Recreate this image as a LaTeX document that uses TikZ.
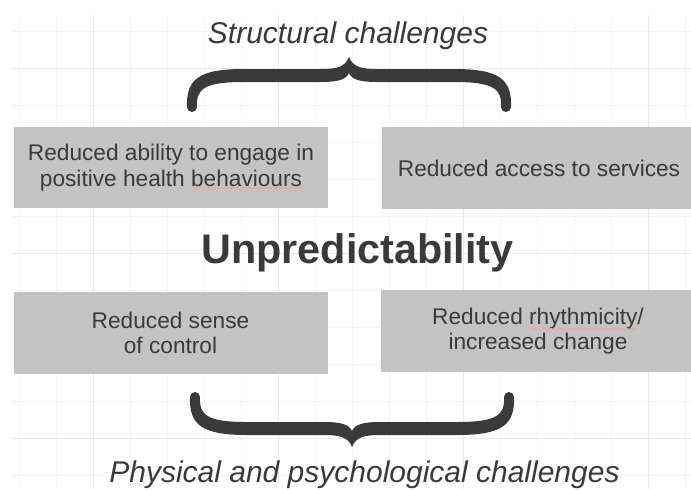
\documentclass[tikz,border=0pt]{standalone}
\usepackage{fontspec}
\setmainfont{Liberation Sans}
\usetikzlibrary{positioning, decorations.pathmorphing}

\definecolor{boxgray}{HTML}{C4C3C4}
\definecolor{inkgray}{HTML}{3A3A3A}
\definecolor{gridmajor}{HTML}{EAEAEA}
\definecolor{gridminor}{HTML}{F4F4F4}

\begin{document}
\begin{tikzpicture}[
    x=0.75pt, y=-0.75pt,
    box/.style={fill=boxgray, text=inkgray, minimum width=235.5pt, minimum height=61pt, align=center, font=\fontsize{17}{19}\selectfont},
    caption/.style={text=inkgray, font=\fontsize{22.5}{27}\selectfont\itshape},
    spellmark/.style={red!40!white, line width=0.5pt, decorate, decoration={snake, amplitude=0.6pt, segment length=3pt}},
    pics/curlybrace/.style={code={
        \fill[inkgray] (0,0) .. controls (-4,10) and (-12,12) .. (-28,12) -- (-105,12)
            .. controls (-150,12) and (-163,22) .. (-162,50) arc[start angle=180, end angle=0, radius=5]
            .. controls (-153,32) and (-145,25) .. (-105,25) -- (-28,25)
            .. controls (-12,25) and (-3,23) .. (0,16)
            .. controls (3,23) and (12,25) .. (28,25) -- (105,25)
            .. controls (145,25) and (153,32) .. (152,50) arc[start angle=180, end angle=0, radius=5]
            .. controls (163,22) and (150,12) .. (105,12) -- (28,12)
            .. controls (12,12) and (4,10) .. (0,0) -- cycle;
    }},
]
\useasboundingbox (0,0) rectangle (691,489);

% Grid
\foreach \gx in {19,56,...,691} \draw[gridminor, line width=0.75pt] (\gx,15) -- (\gx,489);
\foreach \gy in {31,68,...,489} \draw[gridminor, line width=0.75pt] (12,\gy) -- (691,\gy);
\foreach \gx in {93,278,463,648} \draw[gridmajor, line width=0.75pt] (\gx,15) -- (\gx,489);
\foreach \gy in {68,253,438} \draw[gridmajor, line width=0.75pt] (12,\gy) -- (691,\gy);

% Boxes
\node[box] (ability) at (171,167.5) {Reduced ability to engage in\\positive health behaviours};
\node[box] (access) at (539,168) {Reduced access to services};
\node[box] (control) at (170.5,333) {Reduced sense\\of control};
\node[box] (rhythm) at (538,331) {Reduced rhythmicity/\\increased change};

% Centre and captions
\node[text=inkgray, font=\fontsize{31}{36}\selectfont\bfseries, anchor=base] (unpred) at (357.5,263) {Unpredictability};
\node[caption, anchor=base] (structural) at (348,43) {Structural challenges};
\node[caption, anchor=base] (physical) at (364.5,482) {Physical and psychological challenges};

% Braces
\pic (topbrace) at (349,57) {curlybrace};
\pic[yscale=-1] (bottombrace) at (352,447) {curlybrace};

% Spelling marks
\draw[spellmark] (192,188) -- (303,188);
\draw[spellmark] (530,329) -- (638,329);

\end{tikzpicture}
\end{document}
